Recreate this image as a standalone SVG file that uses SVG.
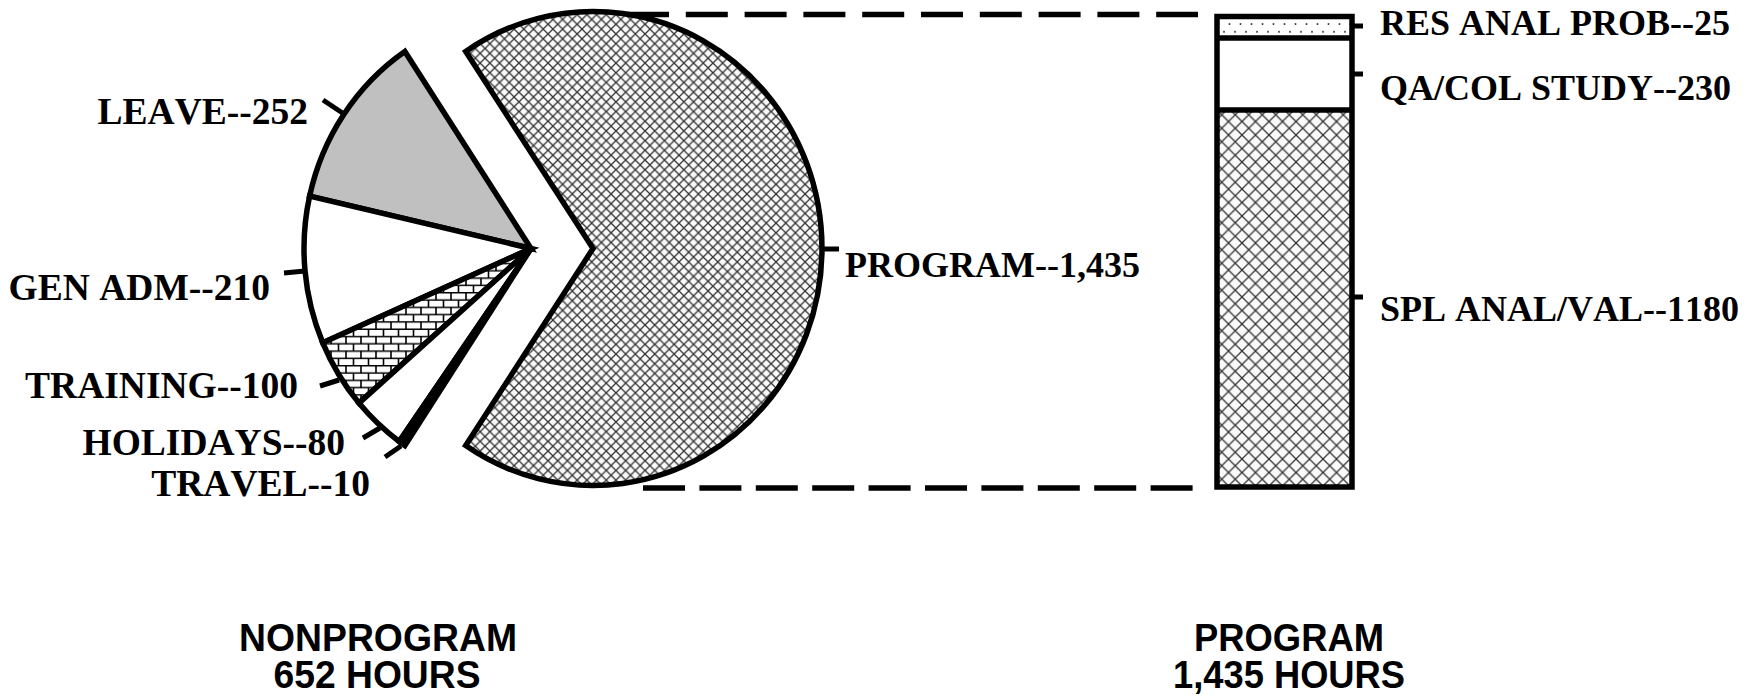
<svg xmlns="http://www.w3.org/2000/svg" width="1762" height="695" viewBox="0 0 1762 695">
<style>
.edge{stroke:#000;stroke-width:5.5;stroke-linejoin:miter;stroke-miterlimit:6}
.tick{stroke:#000;stroke-width:5;fill:none}
.dash{stroke:#000;stroke-width:5.5;fill:none}
.lbl{font-family:"Liberation Serif","Times New Roman",serif;font-weight:bold;font-size:36px;fill:#000;font-kerning:none;font-feature-settings:"kern" 0}
.lbl-l{font-size:37.5px;text-anchor:end}
.cap{font-family:"Liberation Sans",Arial,sans-serif;font-weight:bold;font-size:39px;fill:#000;text-anchor:middle}
</style>
<defs>
<pattern id="xhatch" width="9.7" height="9.7" patternUnits="userSpaceOnUse">
<rect width="9.7" height="9.7" fill="#fafafa"/>
<path d="M0 0L9.7 9.7M9.7 0L0 9.7" stroke="#333" stroke-width="1.3"/>
</pattern>
<pattern id="xhatchbar" width="13.5" height="13.5" patternUnits="userSpaceOnUse">
<rect width="13.5" height="13.5" fill="#fafafa"/>
<path d="M0 0L13.5 13.5M13.5 0L0 13.5" stroke="#333" stroke-width="1.3"/>
</pattern>
<pattern id="brick" width="15" height="14.6" patternUnits="userSpaceOnUse">
<rect width="15" height="14.6" fill="#fff"/>
<path d="M0 0.7H15M0 8H15M1 0V8M8.5 8V14.6" stroke="#000" stroke-width="1.6"/>
</pattern>
<pattern id="dots" width="11" height="15.4" patternUnits="userSpaceOnUse">
<rect width="11" height="15.4" fill="#fff"/>
<circle cx="3" cy="1" r="1" fill="#333"/>
<circle cx="8.5" cy="8.7" r="1" fill="#333"/>
</pattern>
</defs>
<rect width="1762" height="695" fill="#fff"/>

<g id="slice-program">
<path class="edge" fill="url(#xhatch)" d="M593 248.5L465.7 51.48A229 237 0 1 1 465.7 445.52Z"/>
</g>

<g id="slice-leave">
<path class="edge" fill="#c0c0c0" d="M531 248.5L404.83 51.48A227 237 0 0 0 309.61 196.13Z"/>
</g>
<g id="slice-genadm">
<path class="edge" fill="#fff" d="M531 248.5L309.61 196.13A227 237 0 0 0 322.76 342.85Z"/>
</g>
<g id="slice-training">
<path class="edge" fill="url(#brick)" d="M531 248.5L322.76 342.85A227 237 0 0 0 358.93 403.08Z"/>
</g>
<g id="slice-holidays">
<path class="edge" fill="#fff" d="M531 248.5L358.93 403.08A227 237 0 0 0 399.21 441.47Z"/>
</g>
<g id="slice-travel">
<path class="edge" fill="#000" d="M531 248.5L399.21 441.47A227 237 0 0 0 404.83 445.52Z"/>
</g>

<g id="bar">
<rect x="1217" y="16.5" width="135" height="21.5" fill="url(#dots)"/>
<rect x="1217" y="38" width="135" height="72" fill="#fff"/>
<rect x="1217" y="110" width="135" height="377" fill="url(#xhatchbar)"/>
<path class="edge" fill="none" d="M1217 38H1352M1217 110H1352"/>
<rect class="edge" fill="none" x="1217" y="16.5" width="135" height="470.5"/>
</g>

<g id="connectors">
<line class="dash" x1="627" y1="14.5" x2="1198" y2="14.5" stroke-dasharray="42 16.8"/>
<line class="dash" x1="643" y1="488" x2="1193" y2="488" stroke-dasharray="42 14.4"/>
</g>

<g id="labels-left">
<g id="label-leave"><line class="tick" x1="344" y1="114" x2="323" y2="100"/><text class="lbl lbl-l" x="308" y="124">LEAVE--252</text></g>
<g id="label-genadm"><line class="tick" x1="305" y1="271" x2="284" y2="273"/><text class="lbl lbl-l" x="270" y="300">GEN ADM--210</text></g>
<g id="label-training"><line class="tick" x1="339" y1="380" x2="320" y2="386"/><text class="lbl lbl-l" x="298" y="398">TRAINING--100</text></g>
<g id="label-holidays"><line class="tick" x1="380" y1="428" x2="363" y2="438"/><text class="lbl lbl-l" x="345" y="455">HOLIDAYS--80</text></g>
<g id="label-travel"><line class="tick" x1="401" y1="446" x2="385" y2="457"/><text class="lbl lbl-l" x="370" y="496">TRAVEL--10</text></g>
</g>

<g id="label-program"><line class="tick" x1="822" y1="249" x2="839" y2="249"/><text class="lbl" x="845" y="277">PROGRAM--1,435</text></g>

<g id="labels-right">
<g id="label-res"><line class="tick" x1="1352" y1="26" x2="1363" y2="26"/><text class="lbl" x="1380" y="35">RES ANAL PROB--25</text></g>
<g id="label-qa"><line class="tick" x1="1352" y1="74" x2="1363" y2="74"/><text class="lbl" x="1380" y="100">QA/COL STUDY--230</text></g>
<g id="label-spl"><line class="tick" x1="1352" y1="297" x2="1363" y2="297"/><text class="lbl" x="1380" y="321">SPL ANAL/VAL--1180</text></g>
</g>

<g id="caption-nonprogram">
<text class="cap" x="378" y="651" textLength="278" lengthAdjust="spacingAndGlyphs">NONPROGRAM</text>
<text class="cap" x="377" y="688" textLength="207" lengthAdjust="spacingAndGlyphs">652 HOURS</text>
</g>
<g id="caption-program">
<text class="cap" x="1289" y="651" textLength="190" lengthAdjust="spacingAndGlyphs">PROGRAM</text>
<text class="cap" x="1289" y="688" textLength="232" lengthAdjust="spacingAndGlyphs">1,435 HOURS</text>
</g>
</svg>
